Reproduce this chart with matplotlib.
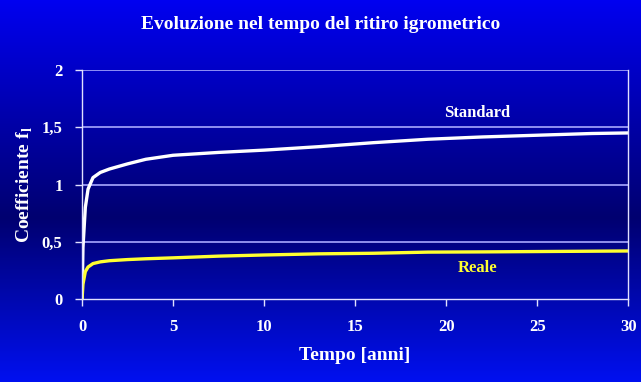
import numpy as np
import matplotlib
matplotlib.use('Agg')
import matplotlib.pyplot as plt
from matplotlib.colors import LinearSegmentedColormap

# Data (time in years, coefficient values)
tempo = [0, 0.05, 0.18, 0.33, 0.6, 1.0, 1.5, 2.5, 3.5, 5, 7.5, 10, 13, 16, 19, 22, 25, 28, 30]
standard = [0, 0.45, 0.8, 0.96, 1.06, 1.105, 1.135, 1.18, 1.22, 1.255, 1.28, 1.30,
            1.33, 1.365, 1.395, 1.415, 1.43, 1.445, 1.45]
reale = [0, 0.13, 0.24, 0.28, 0.31, 0.325, 0.335, 0.345, 0.352, 0.36, 0.375, 0.385,
         0.395, 0.40, 0.41, 0.412, 0.415, 0.418, 0.42]

x_ticks = [0, 5, 10, 15, 20, 25, 30]
y_ticks = [0, 0.5, 1, 1.5, 2]
y_tick_labels = ['0', '0,5', '1', '1,5', '2']

serif = ['Liberation Serif', 'DejaVu Serif']
grid_col = '#a8a8ff'

fig = plt.figure(figsize=(6.41, 3.82), dpi=100)

# Background gradient: bright blue at top/bottom, dark navy in the middle
bg = fig.add_axes([0, 0, 1, 1], zorder=-10)
cmap = LinearSegmentedColormap.from_list('bg', [(0.0, '#0000f0'), (0.57, '#000070'), (1.0, '#0010f0')])
grad = np.linspace(0, 1, 256).reshape(-1, 1)
bg.imshow(grad, aspect='auto', cmap=cmap, extent=[0, 1, 0, 1], origin='upper')
bg.axis('off')

ax = fig.add_axes([0.128, 0.217, 0.852, 0.6])
ax.patch.set_alpha(0)

ax.plot(tempo, standard, color='white', lw=2.4, solid_capstyle='round')
ax.plot(tempo, reale, color='#ffff30', lw=2.4, solid_capstyle='round')

ax.set_xlim(0, 30)
ax.set_ylim(0, 2)
ax.set_xticks(x_ticks)
ax.set_yticks(y_ticks)
ax.set_yticklabels(y_tick_labels)
ax.set_xticklabels([str(v) for v in x_ticks])

for y in y_ticks[1:]:
    ax.axhline(y, color=grid_col, lw=1.2, zorder=0)

for side in ['left', 'bottom', 'right']:
    ax.spines[side].set_color('#e0e0ff')
    ax.spines[side].set_linewidth(1.0)
ax.spines['top'].set_visible(False)

ax.tick_params(axis='both', colors='#e0e0ff', direction='out', length=5, width=1, pad=9)
for lab in ax.get_xticklabels() + ax.get_yticklabels():
    lab.set_color('white')
    lab.set_fontfamily(serif)
    lab.set_fontweight('bold')
    lab.set_fontsize(12)

ax.set_xlabel('Tempo [anni]', color='white', fontsize=14, fontweight='bold', family=serif, labelpad=9)
ax.set_ylabel(r'Coefficiente f$_\mathregular{l}$', color='white', fontsize=14,
              fontweight='bold', family=serif, labelpad=5)

fig.text(0.5, 0.935, 'Evoluzione nel tempo del ritiro igrometrico', color='white', ha='center',
         va='center', fontsize=14, fontweight='bold', family=serif)

ax.text(21.7, 1.625, 'Standard', color='white', ha='center', va='center', fontsize=12,
        fontweight='bold', family=serif)
ax.text(21.7, 0.27, 'Reale', color='#ffff30', ha='center', va='center', fontsize=12,
        fontweight='bold', family=serif)

fig.savefig('out.png', dpi=100)
